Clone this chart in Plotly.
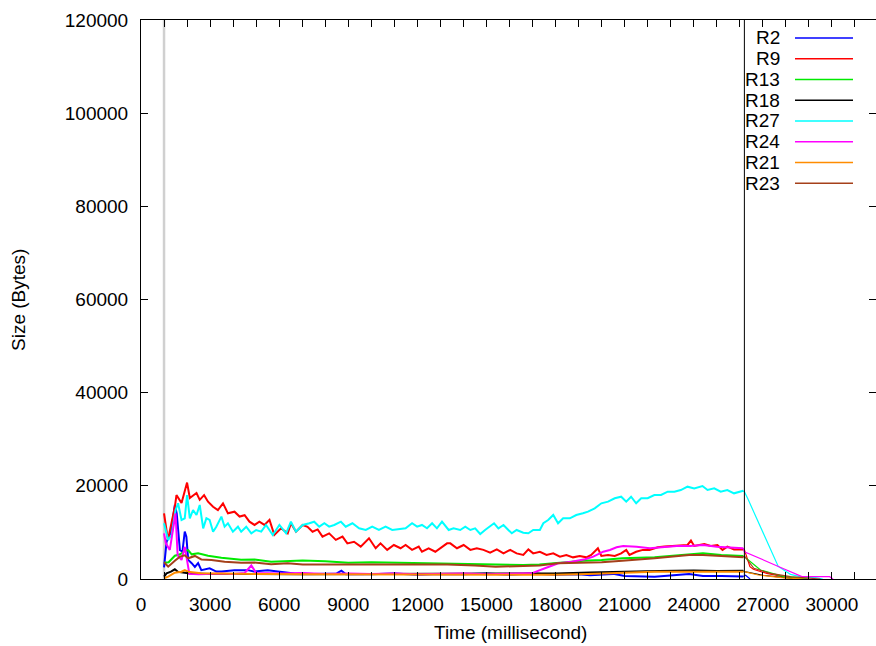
import plotly.graph_objects as go

# Queue size per router over time (ms -> bytes)
names = ["R2", "R9", "R13", "R18", "R27", "R24", "R21", "R23"]
colors = ["#0000ff", "#ff0000", "#00ea00", "#000000", "#00ffff", "#ff00ff", "#ff8c00", "#a5401a"]

r2_t = [1000, 1110, 1300, 1470, 1550, 1690, 1800, 1900, 1970, 2050, 2200, 2340, 2480, 2620, 2980, 3270,
        3500, 4060, 4640, 4900, 5500, 6000, 6660, 7500, 8500, 8700, 8900, 10000, 11000, 12000, 13000,
        14000, 15000, 16000, 17000, 18000, 19000, 19500, 20500, 21000, 22300, 23800, 24400, 25200, 26150,
        26250, 26450]
r2_v = [2500, 8000, 10000, 15900, 14100, 6200, 5900, 10200, 9100, 4100, 3400, 2600, 3400, 1900, 2300, 1600,
        1600, 1900, 1900, 1600, 1900, 1600, 1200, 1100, 1200, 1800, 1000, 1000, 1200, 900, 1100,
        1000, 1200, 900, 1200, 900, 1000, 800, 1100, 650, 500, 1050, 650, 650, 550,
        800, 0]

r9_t = [1000, 1170, 1470, 1540, 1760, 2000, 2120, 2410, 2550, 2740, 2910, 3130, 3340, 3560, 3775, 4060,
        4280, 4500, 4710, 4930, 5140, 5360, 5580, 5790, 6080, 6370, 6510, 6730, 7020, 7230, 7450, 7670,
        7880, 8170, 8460, 8750, 8960, 9250, 9540, 9900, 10190, 10400, 10690, 10980, 11270, 11490, 11770,
        12060, 12200, 12490, 12780, 13070, 13290, 13430, 13720, 14010, 14300, 14580, 14870, 15160, 15450,
        15740, 16030, 16310, 16600, 16820, 17030, 17320, 17610, 17900, 18190, 18470, 18760, 19050, 19340,
        19550, 19700, 19840, 19990, 20280, 20570, 20850, 21070, 21210, 21500, 21790, 22080, 22440, 22730,
        23160, 23440, 23730, 23880, 24020, 24460, 24740, 25030, 25250, 25460, 25750, 26150,
        26200, 26440, 26590, 27170, 27890, 28610, 29000]
r9_v = [14100, 8400, 15500, 18000, 16300, 20700, 17400, 18450, 17000, 18000, 16600, 15500, 14800, 16250, 14100, 14450,
        13400, 13700, 12300, 11600, 12300, 11600, 12700, 9450, 10900, 9800, 11950, 10150, 11600, 11200, 10150, 10650,
        9100, 9800, 8400, 9100, 7650, 8000, 6950, 8750, 6600, 7650, 6250, 7300, 6600, 7300, 6250,
        6950, 5850, 6600, 5850, 6950, 7650, 7650, 6600, 7300, 6250, 6600, 6250, 5650, 6350,
        5500, 6250, 5500, 5150, 6350, 5500, 5850, 5150, 5500, 4800, 5150, 4650, 4950, 4650,
        5150, 5850, 6600, 4950, 5150, 4950, 5500, 6250, 5150, 5850, 6250, 6250, 6800, 6950,
        7100, 7300, 7300, 8250, 7100, 7500, 7100, 7300, 6250, 6950, 6350, 6350,
        6300, 2640, 2080, 1220, 500, 150, 0]

r13_t = [1000, 1200, 1470, 1700, 1900, 2050, 2200, 2480, 2910, 3490, 4350, 4930, 5650, 6370, 7020, 8000,
         9000, 10000, 11000, 12000, 13300, 14500, 15400, 16600, 17300, 18100, 19200, 20000, 20900, 22300,
         23800, 24400, 25200, 26150,
         26200, 26900, 27900, 28900]
r13_v = [3500, 3600, 5000, 5300, 6000, 6200, 5300, 5500, 5000, 4550, 4150, 4200, 3700, 3900, 3950, 3800,
         3500, 3600, 3500, 3400, 3370, 3300, 3150, 3000, 3100, 3500, 3930, 4100, 4440, 4650,
         5370, 5510, 5150, 4940,
         4790, 1930, 500, 0]

r18_t = [1000, 1110, 1300, 1470, 1600, 2050, 3000, 5000, 7000, 10000, 13000, 16000, 18000, 19500, 21000,
         22500, 24000, 25000, 26150,
         26200, 27000, 28000, 28500]
r18_v = [500, 1220, 1570, 2080, 1570, 1220, 1100, 1000, 1000, 1100, 1100, 1100, 1200, 1400, 1600,
         1700, 1800, 1700, 1780,
         1570, 800, 200, 0]

r27_t = [1000, 1180, 1330, 1500, 1610, 1760, 1900, 2000, 2120, 2260, 2410, 2550, 2700, 2840, 2980, 3130,
         3270, 3490, 3630, 3775, 3990, 4210, 4350, 4570, 4790, 5000, 5220, 5430, 5720, 6010, 6300, 6510,
         6730, 7020, 7310, 7520, 7740, 7960, 8170, 8390, 8680, 8890, 9180, 9470, 9760, 10040, 10330,
         10620, 10910, 11200, 11490, 11770, 11990, 12200, 12420, 12640, 12850, 13070, 13360, 13570, 13860,
         14080, 14300, 14510, 14730, 14940, 15160, 15330, 15520, 15740, 15950, 16100, 16310, 16600, 16820,
         17030, 17320, 17470, 17680, 17900, 18110, 18330, 18620, 18900, 19190, 19410, 19700, 19990, 20280,
         20570, 20850, 21070, 21280, 21500, 21720, 22000, 22290, 22580, 22870, 23160, 23440, 23730, 24020,
         24380, 24600, 24890, 25170, 25460, 25750, 26150,
         26200, 26370, 27670, 28200, 28800, 29200, 29600]
r27_v = [11960, 8370, 9450, 14810, 16250, 12670, 13030, 18030, 13030, 14810, 13740, 15890, 10880, 13030, 12670, 10160,
         11230, 13380, 11230, 11960, 10160, 11230, 10160, 11230, 9810, 10520, 10160, 11600, 9450, 11600, 9810, 12300,
         10160, 11600, 11960, 12300, 11230, 11960, 11230, 11600, 12300, 11230, 11960, 10880, 10520, 11230, 10520,
         11230, 10520, 10660, 10880, 11960, 11230, 11600, 10880, 11960, 10880, 12300, 10520, 10880, 10520,
         11230, 10520, 10880, 9660, 10520, 11230, 11960, 10880, 11600, 10520, 9810, 10520, 9950, 9810,
         10520, 10520, 11960, 12670, 13740, 11960, 13030, 13030, 13740, 14100, 14450, 15180, 16250, 16600,
         17330, 17670, 16600, 17670, 16250, 17330, 17330, 18030, 18030, 18740, 18740, 19100, 19820, 19460,
         19960, 19100, 19460, 18740, 19100, 18390, 18960,
         18740, 17000, 2700, 1000, 300, 400, 0]

r24_t = [1000, 1080, 1250, 1400, 1500, 1590, 1760, 1900, 2000, 2100, 2500, 3000, 3500, 4000, 4500, 4790,
         5000, 6000, 7000, 8000, 9000, 10000, 11000, 12000, 13000, 14000, 15000, 16000, 16960, 17540,
         18120, 18700, 19280, 19640, 19790, 20070, 20360, 20650, 20940, 21520, 22100, 22680, 23260, 23840,
         24410, 25000, 25580, 26150,
         26200, 27700, 28700, 29900, 30050]
r24_v = [9800, 7650, 6250, 10900, 14100, 5150, 4100, 6900, 3500, 1100, 1000, 1100, 1200, 1100, 1300, 2900,
         1300, 1200, 1300, 1100, 1200, 1100, 1200, 1000, 1100, 1200, 1000, 1100, 1220, 2300,
         3370, 3720, 4230, 4790, 5150, 5860, 6230, 6800, 7080, 6930, 6590, 6800, 7080, 7080,
         7300, 6930, 6800, 6590,
         5860, 2640, 500, 500, 0]

r21_t = [1000, 1180, 1470, 1760, 1900, 2050, 2600, 4000, 5500, 7000, 10000, 13000, 16000, 18000, 19400,
         20900, 22300, 23800, 25200, 26150,
         26200, 26800, 27800, 28800]
r21_v = [150, 500, 1360, 1570, 1930, 1570, 1220, 1220, 1070, 1000, 950, 900, 860, 900, 1070,
         1360, 1570, 1570, 1570, 1570,
         1570, 860, 280, 0]

r23_t = [1000, 1180, 1470, 1690, 1900, 2050, 2340, 2620, 3060, 3630, 4350, 4930, 5650, 6370, 7020, 8000,
         10000, 12000, 13300, 14500, 15400, 16600, 17300, 18100, 19200, 20000, 20900, 22300, 23800, 24400,
         25200, 26150,
         26200, 26610, 27330, 28200, 29070, 29500]
r23_v = [3600, 2640, 3900, 4800, 5100, 4450, 4950, 4200, 4100, 3700, 3500, 3550, 3150, 3370, 3100, 3100,
         3000, 3000, 3100, 2900, 2640, 2790, 2900, 3370, 3500, 3600, 3930, 4440, 5150, 5150,
         4940, 4650,
         4940, 2300, 1220, 500, 70, 0]

series_t = [r2_t, r9_t, r13_t, r18_t, r27_t, r24_t, r21_t, r23_t]
series_v = [r2_v, r9_v, r13_v, r18_v, r27_v, r24_v, r21_v, r23_v]

cut_time = 26200      # end of the dense sampling period (black marker)
start_time = 1000     # start of traffic (gray marker)

x_ticks = list(range(0, 30001, 3000))
y_ticks = list(range(0, 120001, 20000))

FONT = "Liberation Sans, Arial, Helvetica, sans-serif"
W, H = 876, 646
ML, MR, MT, MB = 141, 0, 20, 67
PW, PH = W - ML - MR, H - MT - MB

fig = go.Figure()

for name, col, ts, vs in zip(names, colors, series_t, series_v):
    main = [(t, v) for t, v in zip(ts, vs) if t <= cut_time - 40]
    tail = [(t, v) for t, v in zip(ts, vs) if t >= cut_time - 60]
    fig.add_trace(go.Scatter(x=[p[0] for p in main], y=[p[1] for p in main], mode="lines",
                             line=dict(color=col, width=2), name=name, showlegend=False))
    fig.add_trace(go.Scatter(x=[p[0] for p in tail], y=[p[1] for p in tail], mode="lines",
                             line=dict(color=col, width=1.2), name=name, showlegend=False))

# empty trace so the mirrored right-hand y axis is drawn
fig.add_trace(go.Scatter(x=[None], y=[None], yaxis="y2", mode="lines", showlegend=False,
                         hoverinfo="skip"))

# markers for start of traffic and end of measurement
fig.add_shape(type="line", xref="x", yref="paper", x0=start_time, x1=start_time, y0=0, y1=1,
              line=dict(color="#d0d0d0", width=2.5), layer="below")
fig.add_shape(type="line", xref="x", yref="paper", x0=cut_time, x1=cut_time, y0=0, y1=1,
              line=dict(color="#000000", width=1))

# key: right-aligned labels followed by line samples
def px_x(px):
    return (px - ML) / PW

def px_y(py):
    return (H - MB - py) / PH

key_y0, key_dy = 38, 20.75
for i, (name, col) in enumerate(zip(names, colors)):
    yy = key_y0 + i * key_dy
    fig.add_annotation(x=px_x(782), y=px_y(yy), xref="paper", yref="paper", text=name,
                       showarrow=False, xanchor="right", yanchor="middle",
                       font=dict(family=FONT, size=19, color="black"))
    fig.add_shape(type="line", xref="paper", yref="paper", x0=px_x(795), x1=px_x(853),
                  y0=px_y(yy), y1=px_y(yy), line=dict(color=col, width=1.5))

fig.add_annotation(x=px_x(510), y=px_y(632), xref="paper", yref="paper", text="Time (millisecond)",
                   showarrow=False, xanchor="center", yanchor="middle",
                   font=dict(family=FONT, size=19, color="black"))
fig.add_annotation(x=px_x(18), y=px_y(300), xref="paper", yref="paper", text="Size (Bytes)",
                   showarrow=False, xanchor="center", yanchor="middle", textangle=-90,
                   font=dict(family=FONT, size=19, color="black"))

fig.update_layout(
    width=W, height=H,
    margin=dict(l=ML, r=MR, t=MT, b=MB, autoexpand=False),
    paper_bgcolor="white", plot_bgcolor="white",
    showlegend=False,
    font=dict(family=FONT, size=19, color="black"),
    xaxis=dict(range=[0, 31915], tickvals=x_ticks, ticktext=[str(v) for v in x_ticks],
               ticks="inside", ticklen=7, tickwidth=1, tickcolor="black",
               minor=dict(dtick=1000, tick0=0, ticks="inside", ticklen=7, tickcolor="black", showgrid=False),
               showline=True, linecolor="black", linewidth=1, mirror="ticks",
               showgrid=False, zeroline=False, ticklabelstandoff=8,
               tickfont=dict(family=FONT, size=19, color="black")),
    yaxis=dict(range=[0, 120000], tickvals=y_ticks, ticktext=[str(v) for v in y_ticks],
               ticks="inside", ticklen=7, tickwidth=1, tickcolor="black",
               showline=True, linecolor="black", linewidth=1, mirror=False,
               showgrid=False, zeroline=False, ticklabelstandoff=8,
               tickfont=dict(family=FONT, size=19, color="black")),
    yaxis2=dict(range=[0, 120000], tickvals=y_ticks, overlaying="y", side="right",
                ticks="inside", ticklen=7, tickwidth=1, tickcolor="black",
                showticklabels=False, showline=False, showgrid=False, zeroline=False),
)

fig.write_html("out.html")
